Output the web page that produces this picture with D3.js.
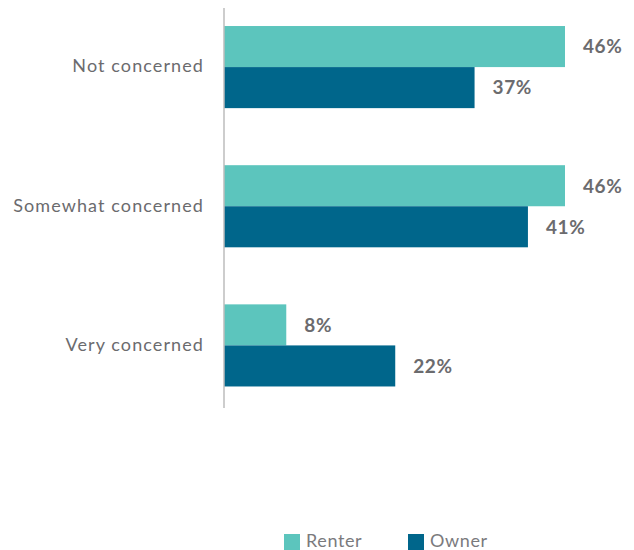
<!DOCTYPE html>
<html><head><meta charset="utf-8">
<script src="https://cdn.jsdelivr.net/npm/d3@7/dist/d3.min.js"></script>
<style>body{margin:0;background:#fff}svg{display:block}</style>
</head><body>
<svg id="c" width="634" height="550"></svg>
<script>
const categories = ["Not concerned", "Somewhat concerned", "Very concerned"];
const seriesNames = ["Renter", "Owner"];
const renterValues = [46, 46, 8.4];
const ownerValues = [33.8, 41, 23.1];
const renterLabels = ["46%", "46%", "8%"];
const ownerLabels = ["37%", "41%", "22%"];
const colors = ["#5cc5bd", "#00668b"];

const svg = d3.select("#c");
const font = "Lato, 'Open Sans', sans-serif";
const x0 = 224;
const x = d3.scaleLinear().domain([0, 46]).range([x0, 565]);
const y = d3.scaleBand().domain(categories).range([-2.5, 415]).paddingInner(0.41).paddingOuter(0.205);
const ys = d3.scaleBand().domain(seriesNames).range([0, y.bandwidth()]);

const data = [renterValues, ownerValues];
const labels = [renterLabels, ownerLabels];

seriesNames.forEach((s, si) => {
  svg.append("g").selectAll("rect").data(categories).join("rect")
    .attr("x", x(0))
    .attr("y", c => y(c) + ys(s))
    .attr("width", (c, i) => x(data[si][i]) - x(0))
    .attr("height", ys.bandwidth())
    .attr("fill", colors[si]);
  svg.append("g").selectAll("text").data(categories).join("text")
    .attr("x", (c, i) => x(data[si][i]) + 18)
    .attr("y", c => y(c) + ys(s) + ys.bandwidth() / 2 + 2)
    .attr("dominant-baseline", "middle")
    .attr("font-family", font).attr("font-weight", "bold").attr("font-size", 19)
    .attr("letter-spacing", 0.6)
    .attr("fill", "#6b6b6e")
    .text((c, i) => labels[si][i]);
});

// axis
const axis = d3.axisLeft(y).tickSize(0).tickPadding(20);
const ag = svg.append("g").attr("transform", `translate(${x0},0)`).call(axis);
ag.select(".domain").attr("d", "M0,8V408").attr("stroke", "#bdbdbd").attr("stroke-width", 1.5);
ag.selectAll(".tick text").attr("font-family", font).attr("font-size", 18).attr("fill", "#6b6b6e")
  .attr("letter-spacing", 1.1).attr("dy", "0.3em");

// legend
const leg = svg.append("g");
const lx = [284, 408];
seriesNames.forEach((s, i) => {
  leg.append("rect").attr("x", lx[i]).attr("y", 534).attr("width", 16).attr("height", 16).attr("fill", colors[i]);
  leg.append("text").attr("x", lx[i] + 22).attr("y", 542).attr("dominant-baseline", "middle")
    .attr("font-family", font).attr("font-size", 18).attr("fill", "#7a7a7d")
    .attr("letter-spacing", 0.6).text(s);
});
</script>
</body></html>
